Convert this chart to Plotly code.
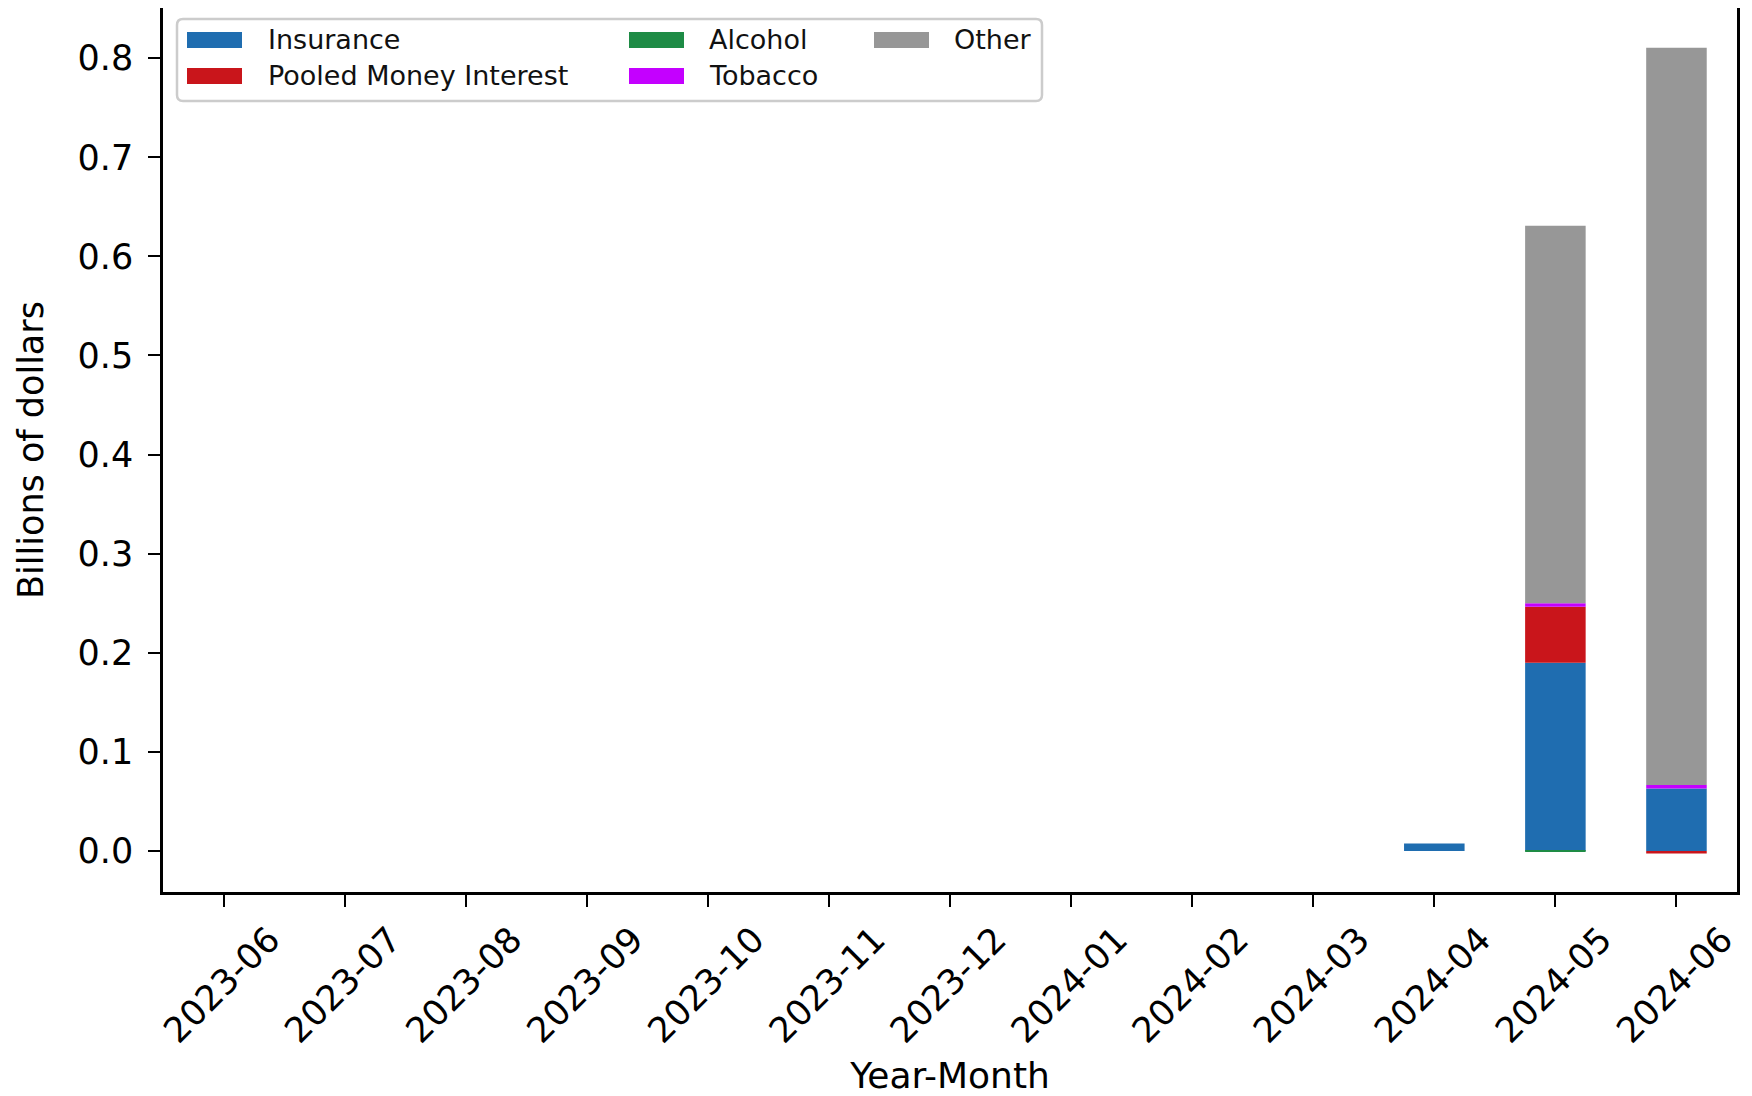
import plotly.graph_objects as go

months = ["2023-06", "2023-07", "2023-08", "2023-09", "2023-10", "2023-11", "2023-12",
          "2024-01", "2024-02", "2024-03", "2024-04", "2024-05", "2024-06"]
insurance = [0, 0, 0, 0, 0, 0, 0, 0, 0, 0, 0.0075, 0.190, 0.063]
pooled_money_interest = [0, 0, 0, 0, 0, 0, 0, 0, 0, 0, 0, 0.0565, -0.0025]
alcohol = [0, 0, 0, 0, 0, 0, 0, 0, 0, 0, 0, -0.0008, 0]
tobacco = [0, 0, 0, 0, 0, 0, 0, 0, 0, 0, 0, 0.0035, 0.0035]
other = [0, 0, 0, 0, 0, 0, 0, 0, 0, 0, 0, 0.381, 0.744]

series_names = ["Insurance", "Pooled Money Interest", "Alcohol", "Tobacco", "Other"]
series_values = [insurance, pooled_money_interest, alcohol, tobacco, other]
series_colors = ["#1f6db0", "#c9151b", "#1e8b45", "#c400ff", "#979797"]
y_ticks = [0.0, 0.1, 0.2, 0.3, 0.4, 0.5, 0.6, 0.7, 0.8]

# page is offset by the browser's default 8px body margin
OFF = 8
W, H = 1752 - OFF, 1096 - OFF
# plot area in page pixels: left 163, right 1737, top 8, bottom 892
ML, MT = 163 - OFF, 8 - OFF
MR = W - (1737 - OFF)
MB = H - (892 - OFF)
PW, PH = W - ML - MR, H - MT - MB
FONT = "DejaVu Sans"

fig = go.Figure()
for name, vals, col in zip(series_names, series_values, series_colors):
    fig.add_trace(go.Bar(x=months, y=vals, name=name, marker_color=col,
                         marker_line_width=0, width=0.5, showlegend=False))

def px_x(p):  # page pixel -> paper
    return (p - OFF - ML) / PW

def px_y(p):
    return (H - MB - (p - OFF)) / PH

# legend (matplotlib-style, 3 columns, column-major)
shapes = []
annotations = []
x0, x1, y0, y1, r = 177, 1042, 19, 101, 6
path = (f"M {px_x(x0 + r)},{px_y(y0)} L {px_x(x1 - r)},{px_y(y0)} "
        f"Q {px_x(x1)},{px_y(y0)} {px_x(x1)},{px_y(y0 + r)} "
        f"L {px_x(x1)},{px_y(y1 - r)} Q {px_x(x1)},{px_y(y1)} {px_x(x1 - r)},{px_y(y1)} "
        f"L {px_x(x0 + r)},{px_y(y1)} Q {px_x(x0)},{px_y(y1)} {px_x(x0)},{px_y(y1 - r)} "
        f"L {px_x(x0)},{px_y(y0 + r)} Q {px_x(x0)},{px_y(y0)} {px_x(x0 + r)},{px_y(y0)} Z")
shapes.append(dict(type="path", xref="paper", yref="paper", path=path,
                   line=dict(color="#cccccc", width=2.5), fillcolor="rgba(255,255,255,0.8)",
                   layer="above"))
col_sw = [187, 629, 874]
col_tx = [266, 707, 952]
row_y = [40, 76]
for i, (name, col) in enumerate(zip(series_names, series_colors)):
    c, rr = divmod(i, 2)
    cy = row_y[rr]
    shapes.append(dict(type="rect", xref="paper", yref="paper",
                       x0=px_x(col_sw[c]), x1=px_x(col_sw[c] + 55),
                       y0=px_y(cy - 8), y1=px_y(cy + 8),
                       fillcolor=col, line_width=0, layer="above"))
    annotations.append(dict(xref="paper", yref="paper", x=px_x(col_tx[c]), y=px_y(cy),
                            text=name, showarrow=False, xanchor="left", yanchor="middle",
                            font=dict(family=FONT, size=27, color="#111111")))

fig.update_layout(
    width=W, height=H,
    margin=dict(l=ML, r=MR, t=MT, b=MB, autoexpand=False),
    paper_bgcolor="white", plot_bgcolor="white",
    barmode="relative", bargap=0.5,
    font=dict(family=FONT, color="black"),
    shapes=shapes, annotations=annotations,
    xaxis=dict(
        type="category", range=[-0.5, 12.5],
        showline=True, mirror=True, linecolor="black", linewidth=2.5,
        ticks="outside", ticklen=12, tickwidth=2, tickcolor="black",
        tickangle=-45, tickfont=dict(family=FONT, size=35, color="black"),
        ticklabelshift=46, ticklabelstandoff=-2,
        showgrid=False, zeroline=False,
        title=dict(text="Year-Month", font=dict(family=FONT, size=36, color="black"), standoff=20),
    ),
    yaxis=dict(
        range=[-0.0414, 0.8506], tickvals=y_ticks, tickformat=".1f",
        showline=True, mirror=True, linecolor="black", linewidth=2.5,
        ticks="outside", ticklen=12, tickwidth=2, tickcolor="black",
        tickfont=dict(family=FONT, size=35, color="black"),
        ticklabelstandoff=8,
        showgrid=False, zeroline=False,
        title=dict(text="Billions of dollars", font=dict(family=FONT, size=35, color="black"), standoff=24),
    ),
)

fig.write_html("out.html")
